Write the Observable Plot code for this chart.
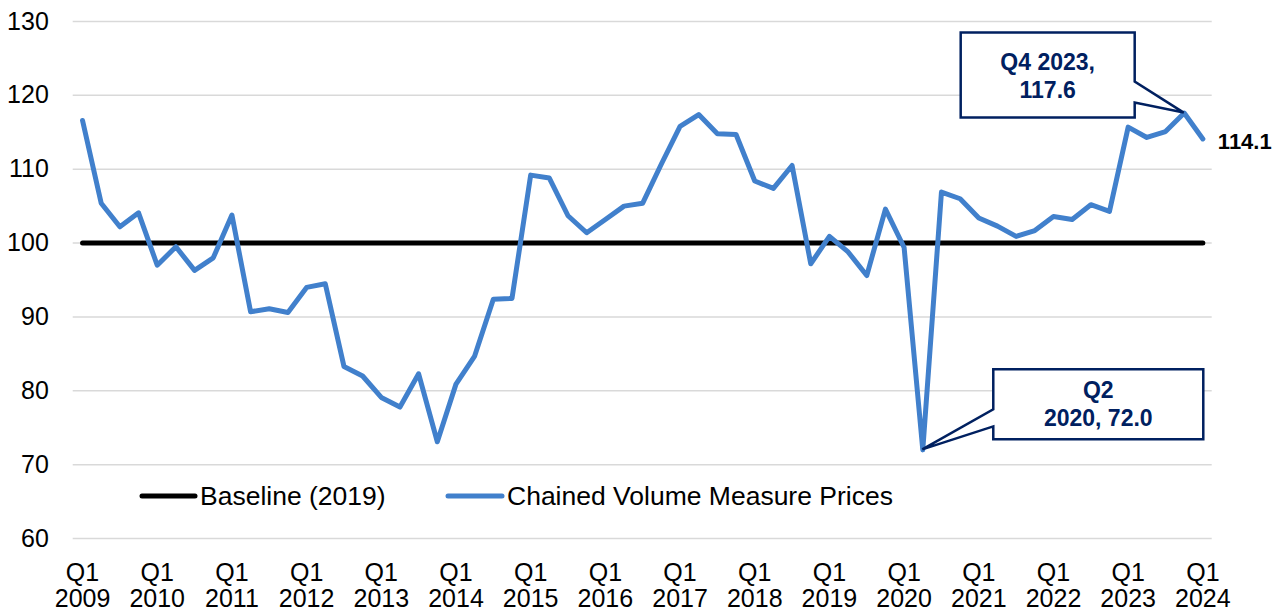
<!DOCTYPE html>
<html>
<head>
<meta charset="utf-8">
<script src="https://cdn.jsdelivr.net/npm/d3@7"></script>
<script src="https://cdn.jsdelivr.net/npm/@observablehq/plot@0.6"></script>
<style>
  html, body { margin: 0; padding: 0; background: #fff; }
  #chart { width: 1283px; height: 611px; }
</style>
</head>
<body>
<div id="chart"></div>
<script>
// ---- Data ----
const startYear = 2009;
const quarterLabels = [];
for (let i = 0; i < 61; i++) quarterLabels.push("Q" + ((i % 4) + 1) + " " + (startYear + Math.floor(i / 4)));

const cvmPrices = [
  116.6, 105.4, 102.2, 104.1,   // 2009
  97.0, 99.5, 96.3, 98.0,       // 2010
  103.8, 90.7, 91.1, 90.6,      // 2011
  94.0, 94.5, 83.3, 82.0,       // 2012
  79.1, 77.8, 82.3, 73.1,       // 2013
  80.9, 84.7, 92.4, 92.5,       // 2014
  109.2, 108.8, 103.7, 101.4,   // 2015
  103.2, 105.0, 105.4, 110.7,   // 2016
  115.8, 117.4, 114.8, 114.7,   // 2017
  108.4, 107.4, 110.5, 97.2,    // 2018
  100.9, 98.8, 95.6, 104.6,     // 2019
  99.4, 72.0, 106.9, 106.0,     // 2020
  103.4, 102.3, 100.9, 101.7,   // 2021
  103.6, 103.2, 105.2, 104.3,   // 2022
  115.7, 114.3, 115.1, 117.6,   // 2023
  114.1                         // 2024 Q1
];
const baselineValue = 100;
const yTicks = [60, 70, 80, 90, 100, 110, 120, 130];
const xTickQuarters = quarterLabels.map((q, i) => i).filter(i => i % 4 === 0);

const seriesNames = ["Baseline (2019)", "Chained Volume Measure Prices"];
const seriesColors = ["#000000", "#4180CC"];

const callouts = [
  { label: "Q4 2023", lines: ["Q4 2023,", "117.6"] },
  { label: "Q2 2020", lines: ["Q2", "2020, 72.0"] }
];
const lastLabel = "114.1";

// ---- Derived tables ----
const data = cvmPrices.map((v, i) => ({ i, q: quarterLabels[i], v }));
const baseline = quarterLabels.map((q, i) => ({ i, v: baselineValue }));

const navy = "#002060";
const font = "Arial, 'Liberation Sans', Helvetica, sans-serif";

function calloutMark(index, scales, values, dimensions, context) {
  const g = d3.create("svg:g");
  // Callout 1: Q4 2023
  {
    const d = data.find(d => d.q === callouts[0].label);
    const tx = scales.x(d.i), ty = scales.y(d.v);
    const L = tx - 223, R = tx - 49, T = ty - 80, B = ty + 5;
    const w1 = ty - 31, w2 = ty - 10;
    g.append("path")
      .attr("d", `M${L},${T}H${R}V${w1}L${tx},${ty}L${R},${w2}V${B}H${L}Z`)
      .attr("fill", "#fff").attr("stroke", navy).attr("stroke-width", 2.5)
      .attr("stroke-linejoin", "miter");
    const cx = (L + R) / 2;
    callouts[0].lines.forEach((t, k) => {
      g.append("text").attr("x", cx).attr("y", ty - 42.6 + k * 28.3)
        .attr("text-anchor", "middle").attr("font-weight", "bold")
        .attr("font-size", 23).attr("fill", navy).attr("font-family", font).text(t);
    });
  }
  // Callout 2: Q2 2020
  {
    const d = data.find(d => d.q === callouts[1].label);
    const tx = scales.x(d.i), ty = scales.y(d.v);
    const L = tx + 71, R = tx + 281, T = ty - 80, B = ty - 10;
    const w1 = ty - 40, w2 = ty - 23;
    g.append("path")
      .attr("d", `M${L},${T}H${R}V${B}H${L}V${w2}L${tx},${ty}L${L},${w1}Z`)
      .attr("fill", "#fff").attr("stroke", navy).attr("stroke-width", 2.5)
      .attr("stroke-linejoin", "miter");
    const cx = (L + R) / 2;
    callouts[1].lines.forEach((t, k) => {
      g.append("text").attr("x", cx).attr("y", ty - 51.3 + k * 28.4)
        .attr("text-anchor", "middle").attr("font-weight", "bold")
        .attr("font-size", 23).attr("fill", navy).attr("font-family", font).text(t);
    });
  }
  return g.node();
}

function legendMark(index, scales, values, dimensions, context) {
  const g = d3.create("svg:g");
  const ly = 496;
  const items = [
    { x0: 142, x1: 195, tx: 200 },
    { x0: 448, x1: 502, tx: 507 }
  ];
  items.forEach((it, k) => {
    g.append("line").attr("x1", it.x0).attr("x2", it.x1).attr("y1", ly).attr("y2", ly)
      .attr("stroke", seriesColors[k]).attr("stroke-width", 5).attr("stroke-linecap", "round");
    g.append("text").attr("x", it.tx).attr("y", ly).attr("dy", "0.35em")
      .attr("text-anchor", "start")
      .attr("font-size", 26.5).attr("fill", "#000").attr("font-family", font)
      .text(seriesNames[k]);
  });
  return g.node();
}

const chart = Plot.plot({
  width: 1283,
  height: 611,
  marginLeft: 72.7,
  marginRight: 71.3,
  marginTop: 21,
  marginBottom: 73,
  style: { fontFamily: font, color: "#000", background: "#fff", overflow: "visible" },
  x: { domain: [-0.5, 60.5], axis: null, label: null },
  y: { domain: [60, 130], axis: null, label: null },
  marks: [
    Plot.ruleY(yTicks, { stroke: "#d9d9d9", strokeWidth: 1.5 }),
    Plot.axisY({ ticks: yTicks, tickSize: 0, tickPadding: 24.4, fontSize: 25, fill: "#000", label: null }),
    Plot.axisX({
      ticks: xTickQuarters,
      tickFormat: i => quarterLabels[i].replace(" ", "\n"),
      tickSize: 0, tickPadding: 23.5, fontSize: 25, lineHeight: 1.05, fill: "#000", label: null
    }),
    Plot.line(baseline, { x: "i", y: "v", stroke: seriesColors[0], strokeWidth: 5, strokeLinecap: "round" }),
    Plot.line(data, { x: "i", y: "v", stroke: seriesColors[1], strokeWidth: 5, strokeLinejoin: "round", strokeLinecap: "round" }),
    calloutMark,
    Plot.text([data[data.length - 1]], {
      x: "i", y: "v", text: () => lastLabel, textAnchor: "start", dx: 15, dy: 3,
      fontSize: 22, fontWeight: "bold", fill: "#000"
    }),
    legendMark
  ]
});

document.getElementById("chart").appendChild(chart);
</script>
</body>
</html>
